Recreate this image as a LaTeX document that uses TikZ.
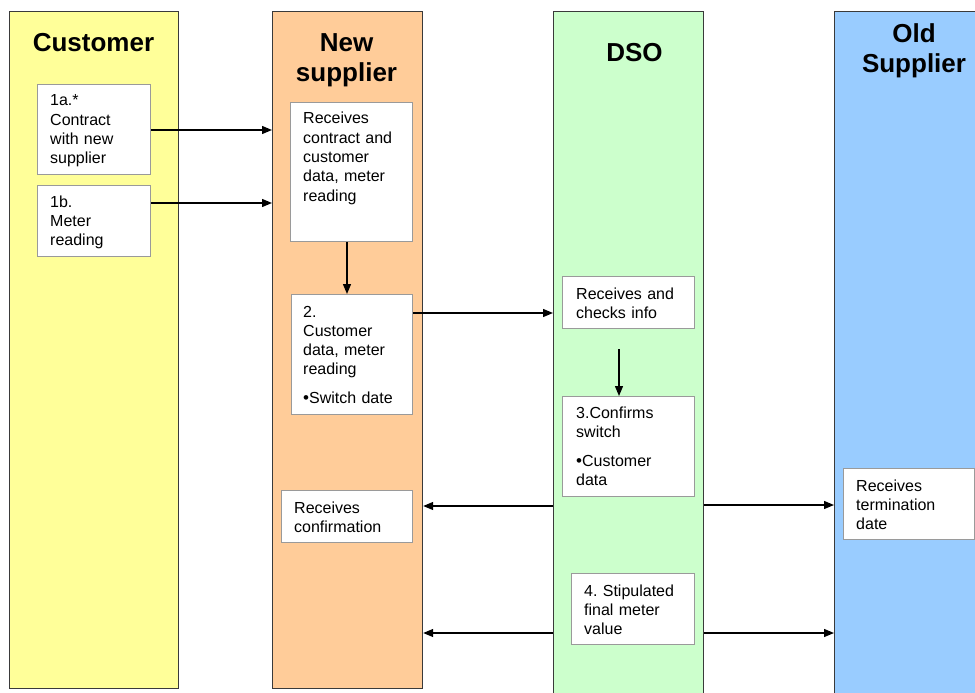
\documentclass[tikz,border=0pt]{standalone}
\usepackage{fontspec}
\setmainfont{Liberation Sans}
\usetikzlibrary{arrows.meta}
\definecolor{custY}{HTML}{FFFF99}
\definecolor{newO}{HTML}{FFCC99}
\definecolor{dsoG}{HTML}{CCFFCC}
\definecolor{oldB}{HTML}{99CCFF}
\definecolor{laneline}{HTML}{3A3A3A}
\definecolor{boxline}{HTML}{9A9A9A}
\newcommand{\smallbul}{{\fontsize{17}{17}\selectfont •}}
\frenchspacing
\begin{document}
\begin{tikzpicture}[x=1pt,y=-1pt,
  lane/.style={draw=laneline, line width=1.2pt, anchor=north west, inner sep=0pt},
  box/.style={draw=boxline, fill=white, line width=1pt, anchor=north west, inner sep=0pt},
  txt/.style={font=\fontsize{16}{19.3}\selectfont, inner sep=0pt, anchor=base west, text width=125pt, align=left},
  ttl/.style={font=\fontsize{26}{30}\selectfont\bfseries, inner sep=0pt, anchor=base, text width=160pt, align=center},
  arr/.style={-{Triangle[length=10pt,width=8pt]}, line width=1.3pt}]
\useasboundingbox (0,0) rectangle (975,693);
\clip (0,0) rectangle (975,693);
% lanes
\node[lane, fill=custY, minimum width=169pt, minimum height=677pt] (lc) at (9,11) {};
\node[lane, fill=newO, minimum width=150pt, minimum height=677pt] (lns) at (272,11) {};
\node[lane, fill=dsoG, minimum width=150pt, minimum height=700pt] (ld) at (553,11) {};
\node[lane, fill=oldB, minimum width=170pt, minimum height=700pt] (lo) at (834,11) {};
% titles
\node[ttl] (tc) at (93.5,52) {Customer};
\node[ttl] (tn) at (346.5,52) {New\\supplier};
\node[ttl] (td) at (634.5,62) {DSO};
\node[ttl] (to) at (914,43) {Old\\Supplier};
% boxes
\node[box, minimum width=113pt, minimum height=90pt] (b1a) at (37,84) {};
\node[txt] (t1a) at (50,106) {1a.*\\Contract\\with new\\supplier};
\node[box, minimum width=113pt, minimum height=71pt] (b1b) at (37,185) {};
\node[txt] (t1b) at (50,207) {1b.\\Meter\\reading};
\node[box, minimum width=122pt, minimum height=139pt] (brc) at (290,102) {};
\node[txt] (trc) at (303,124) {Receives\\contract and\\customer\\data, meter\\reading};
\node[box, minimum width=121pt, minimum height=120pt] (b2) at (291,294) {};
\node[txt] (t2) at (303,317) {2.\\Customer\\data, meter\\reading\\[9.7pt]\smallbul Switch date};
\node[box, minimum width=131pt, minimum height=52pt] (bconf) at (281,490) {};
\node[txt] (tconf) at (294,513) {Receives\\confirmation};
\node[box, minimum width=132pt, minimum height=52pt] (brk) at (562,276) {};
\node[txt] (trk) at (576,299) {Receives and\\checks info};
\node[box, minimum width=132pt, minimum height=100pt] (b3) at (562,396) {};
\node[txt] (t3) at (576,418) {3.Confirms\\switch\\[9.7pt]\smallbul Customer\\data};
\node[box, minimum width=123pt, minimum height=71pt] (b4) at (571,573) {};
\node[txt] (t4) at (584,596) {4. Stipulated\\final meter\\value};
\node[box, minimum width=131pt, minimum height=71pt] (bterm) at (843,468) {};
\node[txt] (tterm) at (856,491) {Receives\\termination\\date};
% connectors
\draw[arr] (b1a.east |- 0,130) -- (lns.west |- 0,130);
\draw[arr] (b1b.east |- 0,203) -- (lns.west |- 0,203);
\draw[arr] (brc.south -| 347,0) -- (b2.north -| 347,0);
\draw[arr] (b2.east |- 0,313) -- (ld.west |- 0,313);
\coordinate (dtop) at (619,349);
\draw[arr] (dtop) -- (dtop |- b3.north);
\draw[arr] (ld.west |- 0,506) -- (lns.east |- 0,506);
\draw[arr] (ld.east |- 0,505) -- (lo.west |- 0,505);
\draw[arr] (ld.west |- 0,633) -- (lns.east |- 0,633);
\draw[arr] (ld.east |- 0,633) -- (lo.west |- 0,633);
\end{tikzpicture}
\end{document}
